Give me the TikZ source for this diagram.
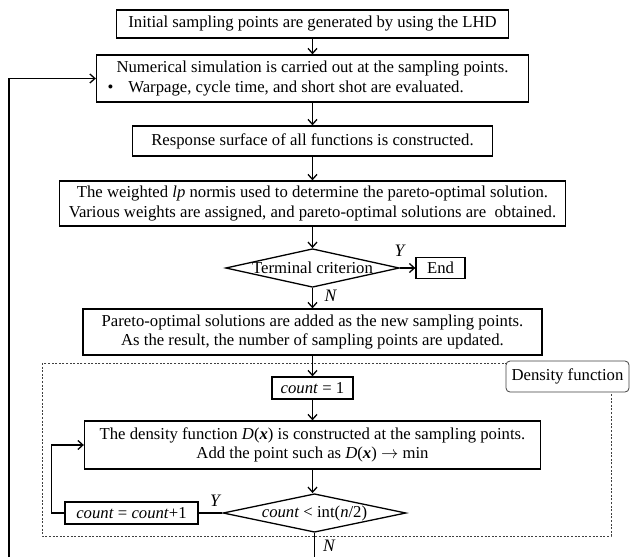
\documentclass[tikz,border=0pt]{standalone}
\usepackage{fontspec}
\setmainfont{Liberation Serif}
\usetikzlibrary{arrows.meta,shapes.geometric}

\begin{document}
\begin{tikzpicture}[x=1pt,y=-1pt,line width=1.3pt,
		>={Straight Barb[length=5pt,width=9pt]},
		every node/.style = {font=\fontsize{16.7}{19.3}\selectfont},
		box/.style = {shape=rectangle, draw, align=center, inner sep=0pt},
		decision/.style = {shape=diamond, draw, inner sep=0pt, aspect=4.5},
		yn/.style = {font=\fontsize{17.5}{19}\selectfont\itshape, inner sep=0pt}]

	\useasboundingbox (0,0) rectangle (637,557);

	% main column
	\node[box, minimum width=392, minimum height=28] (init) at (312.5,24)
		{Initial sampling points are generated by using the LHD};
	\node[box, minimum width=432, minimum height=47] (simul) at (312.5,78.5)
		{Numerical simulation is carried out at the sampling points.\\
		\makebox[410pt][l]{\textbullet\hspace{15pt}Warpage, cycle time, and short shot are evaluated.}};
	\node[box, minimum width=360, minimum height=30] (resp) at (312.5,141)
		{Response surface of all functions is constructed.};
	\node[box, minimum width=506, minimum height=45] (lpnorm) at (312.5,203.5)
		{The weighted \textit{lp} normis used to determine the pareto-optimal solution.\\
		Various weights are assigned, and pareto-optimal solutions are~ obtained.};
	\node[decision, minimum width=160, minimum height=37] (term) at (312.5,268)
		{Terminal criterion};
	\node[box, minimum width=49, minimum height=21] (finish) at (440.5,268) {End};
	\node[box, minimum width=459, minimum height=46] (pareto) at (312.5,332)
		{Pareto-optimal solutions are added as the new sampling points.\\
		As the result, the number of sampling points are updated.};

	% density function part
	\draw[line width=0.8pt, black!75, dash pattern=on 2pt off 1.6pt] (42,363) rectangle (611,536);
	\node[box, line width=0.8pt, draw=black!75, fill=white, rounded corners=4pt,
		minimum width=123, minimum height=31] (denslabel) at (567.5,376.5) {Density function};

	\node[box, minimum width=81, minimum height=22] (countone) at (312.5,388)
		{\textit{count} = 1};
	\node[box, minimum width=456, minimum height=48] (density) at (312.5,445)
		{The density function \textit{D}(\textbf{\textit{x}}) is constructed at the sampling points.\\
		Add the point such as \textit{D}(\textbf{\textit{x}}) $\rightarrow$ min};
	\node[decision, minimum width=183, minimum height=37] (cond) at (314.5,513)
		{\textit{count} < int(\textit{n}/2)};
	\node[box, minimum width=133, minimum height=22] (incr) at (131.5,513)
		{\textit{count} = \textit{count}+1};

	\coordinate (exit) at (314.5,557);
	\coordinate (back) at (9,557);

	% labels
	\node[yn] (yterm) at (399.5,251) {Y};
	\node[yn] (nterm) at (330.5,296) {N};
	\node[yn] (ycond) at (215,501) {Y};
	\node[yn] (ncond) at (329,546) {N};

	% connectors
	\draw[->] (init) to (simul);
	\draw[->] (simul) to (resp);
	\draw[->] (resp) to (lpnorm);
	\draw[->] (lpnorm) to (term);
	\draw[->] (term) to (finish);
	\draw[->] (term) to (pareto);
	\draw[->] (pareto) to (countone);
	\draw[->] (countone) to (density);
	\draw[->] (density.south) to (density.south |- cond.north);
	\draw (cond) to (incr);
	\draw[->] (incr.west) -- ++(-13,0) |- (density.west);
	\draw (cond) to (exit);
	\draw[->] (back) |- (simul.west);
\end{tikzpicture}
\end{document}
